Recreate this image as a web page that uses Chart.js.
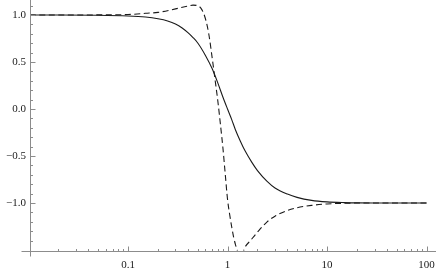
<!DOCTYPE html>
<html>
<head>
<meta charset="utf-8">
<script src="https://cdn.jsdelivr.net/npm/chart.js@4.4.1/dist/chart.umd.min.js"></script>
<style>
  html, body { margin: 0; padding: 0; background: #fff; }
  canvas { display: block; }
</style>
</head>
<body>
<canvas id="plot" width="436" height="270"></canvas>
<script>
/* ── data ──────────────────────────────────────────────────── */
const solidX = [0.0103, 0.02, 0.05, 0.1, 0.15, 0.2, 0.25, 0.3, 0.35, 0.4, 0.45, 0.5, 0.6, 0.7, 0.8, 0.9, 1,
                1.1, 1.2, 1.35, 1.5, 1.75, 2, 2.5, 3, 4, 5, 7, 10, 15, 20, 30, 50, 100];
const solidY = [1.0, 1.0, 0.998, 0.99, 0.978, 0.96, 0.937, 0.905, 0.862, 0.812, 0.76, 0.705, 0.57, 0.43, 0.275, 0.125, 0.0,
                -0.11, -0.22, -0.345, -0.445, -0.565, -0.655, -0.77, -0.84, -0.905, -0.94, -0.972, -0.988, -0.996, -0.999, -1.0, -1.0, -1.0];

const dashX = [0.0103, 0.02, 0.05, 0.1, 0.15, 0.2, 0.3, 0.4, 0.45, 0.5, 0.55, 0.6, 0.65, 0.7, 0.75, 0.8,
               0.85, 0.9, 0.95, 1, 1.05, 1.1, 1.15, 1.2, 1.25, 1.3, 1.35, 1.4, 1.45, 1.5, 1.7,
               2, 2.5, 3, 4, 5, 7, 10, 15, 20, 50, 100];
const dashY = [1.0, 1.0, 1.001, 1.005, 1.018, 1.028, 1.065, 1.095, 1.105, 1.1, 1.06, 0.96, 0.79, 0.55, 0.31, 0.08,
               -0.17, -0.42, -0.7, -0.96, -1.12, -1.25, -1.36, -1.44, -1.5, -1.55, -1.57, -1.55, -1.51, -1.47, -1.4,
               -1.31, -1.2, -1.14, -1.08, -1.05, -1.025, -1.01, -1.003, -1.0, -1.0, -1.0];

const xTicks = [0.1, 1, 10, 100];
const xLabels = ['0.1', '1', '10', '100'];
const xMinor = [0.02, 0.03, 0.04, 0.05, 0.06, 0.07, 0.08, 0.09,
                0.2, 0.3, 0.4, 0.5, 0.6, 0.7, 0.8, 0.9,
                2, 3, 4, 5, 6, 7, 8, 9,
                20, 30, 40, 50, 60, 70, 80, 90];
const yTicks = [-1, -0.5, 0, 0.5, 1];
const yMinor = [-1.4, -1.3, -1.2, -1.1, -0.9, -0.8, -0.7, -0.6, -0.4, -0.3, -0.2, -0.1,
                0.1, 0.2, 0.3, 0.4, 0.6, 0.7, 0.8, 0.9, 1.1];

/* ── look ──────────────────────────────────────────────────── */
const AXIS = '#8c8c8c';
const INK  = '#1a1a1a';
const FONT = { family: "'Liberation Serif', 'Times New Roman', serif", size: 11 };

const toPts = (xs, ys) => xs.map((x, i) => ({ x, y: ys[i] }));
const fmtY  = v => (v < 0 ? '\u2212' : '') + Math.abs(v).toFixed(1);

/* Mathematica-style axes: lines through the frame corner, ticks pointing inward */
const axesPlugin = {
    id: 'mmaAxes',
    afterDatasetsDraw(chart) {
        const { ctx, scales: { x, y } } = chart;
        const x0 = Math.round(x.left) + 0.5;
        const y0 = Math.round(y.bottom) + 0.5;
        ctx.save();
        ctx.strokeStyle = AXIS;
        ctx.lineWidth = 1;
        ctx.beginPath();
        ctx.moveTo(x0 - 9, y0); ctx.lineTo(x.right, y0);
        ctx.moveTo(x0, y.top); ctx.lineTo(x0, y0 + 5);
        xTicks.forEach(v => { const p = Math.round(x.getPixelForValue(v)) + 0.5; ctx.moveTo(p, y0); ctx.lineTo(p, y0 - 5); });
        xMinor.forEach(v => { const p = Math.round(x.getPixelForValue(v)) + 0.5; ctx.moveTo(p, y0); ctx.lineTo(p, y0 - 2.5); });
        yTicks.forEach(v => { const p = Math.round(y.getPixelForValue(v)) + 0.5; ctx.moveTo(x0, p); ctx.lineTo(x0 + 5, p); });
        yMinor.forEach(v => { const p = Math.round(y.getPixelForValue(v)) + 0.5; ctx.moveTo(x0, p); ctx.lineTo(x0 + 2.5, p); });
        ctx.stroke();
        ctx.restore();
    },
};

// no label padding around the plot area: the frame fills the canvas
const noPad = s => { s.paddingTop = 0; s.paddingBottom = 0; s.paddingLeft = 0; s.paddingRight = 0; };

new Chart(document.getElementById('plot'), {
    type: 'scatter',
    data: {
        datasets: [
            {
                data: toPts(solidX, solidY),
                showLine: true,
                borderColor: INK,
                borderWidth: 1.1,
                pointRadius: 0,
                cubicInterpolationMode: 'monotone',
            },
            {
                data: toPts(dashX, dashY),
                showLine: true,
                borderColor: INK,
                borderWidth: 1.1,
                borderDash: [6, 3.5],
                pointRadius: 0,
                cubicInterpolationMode: 'monotone',
            },
        ],
    },
    options: {
        responsive: false,
        animation: false,
        layout: { padding: 0 },
        plugins: { legend: { display: false }, tooltip: { enabled: false } },
        scales: {
            x: {
                type: 'logarithmic',
                min: 0.01035,
                max: 124.5,
                afterBuildTicks: s => { s.ticks = xTicks.map(value => ({ value })); },
                afterFit: s => { s.height = 19.5; noPad(s); },
                ticks: {
                    callback: v => xLabels[xTicks.indexOf(v)] ?? '',
                    autoSkip: false, maxRotation: 0,
                    color: INK, font: FONT, padding: 8,
                },
                grid: { display: false, drawTicks: false },
                border: { display: false },
            },
            y: {
                min: -1.5053,
                max: 1.1596,
                afterBuildTicks: s => { s.ticks = yTicks.map(value => ({ value })); },
                afterFit: s => { s.width = 30; noPad(s); },
                ticks: {
                    callback: v => fmtY(v),
                    autoSkip: false,
                    color: INK, font: FONT, padding: 4,
                },
                grid: { display: false, drawTicks: false },
                border: { display: false },
            },
        },
    },
    plugins: [axesPlugin],
});
</script>
</body>
</html>
